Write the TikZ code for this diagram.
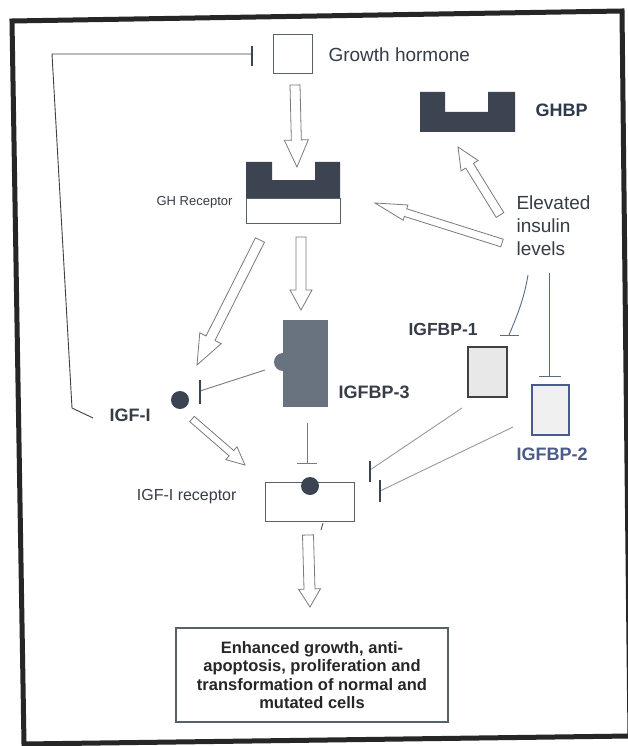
\documentclass[tikz,border=0pt]{standalone}
\usepackage{fontspec}
\setmainfont{Liberation Sans}
\usetikzlibrary{calc,arrows.meta}
\definecolor{dk}{HTML}{3B4450}
\definecolor{bp3}{HTML}{68737F}
\definecolor{txt}{HTML}{363D47}
\definecolor{ghbp}{HTML}{2D3A4C}
\definecolor{bp2}{HTML}{4A5A8A}
\definecolor{ln}{HTML}{7A7A7A}
\definecolor{bl}{HTML}{5A6A85}
\newcommand{\fsz}[2]{\fontsize{#1}{#2}\selectfont}
\newcommand{\hollowarrow}[5]{%
  \coordinate (hab) at ($(#2)!#5!(#1)$);
  \draw[blockarr] ($(#1)!#3!90:(#2)$) -- ($(hab)!#3!90:(#2)$) -- ($(hab)!#4!90:(#2)$) -- (#2) -- ($(hab)!#4!-90:(#2)$) -- ($(hab)!#3!-90:(#2)$) -- ($(#1)!#3!-90:(#2)$) -- cycle;}
\tikzset{
  blockarr/.style={draw=ln, fill=white, line width=0.8pt, line join=miter},
  inh/.style={draw=ln, line width=0.9pt},
  barline/.style={draw=dk, line width=1.4pt},
  frame/.style={draw=black!85, line width=5pt, line join=miter},
  boxline/.style={draw=dk!85, line width=0.9pt, inner sep=0pt},
  dot/.style={circle, fill=dk, inner sep=0pt, minimum size=18pt},
}
\begin{document}
\begin{tikzpicture}[x=1pt,y=-1pt]
\useasboundingbox (0,0) rectangle (627,746);
\fill[white] (0,0) rectangle (627,746);
\draw[frame] (12,21) -- (622,11) -- (630,736) -- (24,744) -- cycle;

% Growth hormone
\node[boxline, minimum width=39pt, minimum height=39pt] (gh) at (292.5,53.5) {};
\node[anchor=west, font=\fsz{19}{22}, text=txt] (ghl) at (325,55) {Growth hormone};

% GH receptor
\fill[dk] (246,162) -- (272,162) -- (272,180) -- (315,180) -- (315,162) -- (340,162) -- (340,198) -- (246,198) -- cycle;
\node[boxline, minimum width=94pt, minimum height=25pt] (ghr) at (293,210.5) {};
\node[anchor=east, font=\fsz{13}{15}, text=txt] (ghrl) at (236,202) {GH Receptor};

% GHBP
\fill[dk] (420,92) -- (445,92) -- (445,112) -- (488,112) -- (488,92) -- (515,92) -- (515,132) -- (420,132) -- cycle;
\node[anchor=west, font=\bfseries\fsz{18}{21}, text=ghbp] (ghbpl) at (532,110) {GHBP};

% Elevated insulin levels
\node[anchor=west, align=left, font=\fsz{19}{23}, text=txt] (ins) at (513,226) {Elevated\\insulin\\levels};

% IGFBP-3
\fill[bp3] (283,320) rectangle (328,407);
\fill[bp3] (283,362) circle (9);
\node[anchor=west, font=\bfseries\fsz{18}{21}, text=txt] (bp3l) at (335,392) {IGFBP-3};

% IGF-I
\node[dot] (igf) at (180,400) {};
\node[anchor=west, font=\bfseries\fsz{18}{21}, text=txt] (igfl) at (106,415) {IGF-I};

% IGF-I receptor
\node[boxline, minimum width=89pt, minimum height=39pt] (rec) at (309.5,501.5) {};
\node[dot] (recdot) at (310,486) {};
\node[anchor=east, font=\fsz{16}{19}, text=txt] (recl) at (240,497) {IGF-I receptor};
\draw[dk, line width=0.8pt] (323,523) -- (321,530);

% IGFBP-1
\node[draw=black!75, fill=black!9, line width=1.2pt, minimum width=39pt, minimum height=50pt, inner sep=0pt] (bp1) at (487.5,372) {};
\node[anchor=west, font=\bfseries\fsz{17.5}{21}, text=txt] (bp1l) at (405,329) {IGFBP-1};

% IGFBP-2
\node[draw=bp2, fill=black!6, line width=1.2pt, minimum width=37pt, minimum height=50pt, inner sep=0pt] (bp2) at (550.5,410) {};
\node[anchor=west, font=\bfseries\fsz{18}{21}, text=bp2] (bp2l) at (513,454) {IGFBP-2};

% Result box
\node[boxline, line width=1.1pt, minimum width=272pt, minimum height=94pt, align=center, font=\bfseries\fsz{16.5}{18.5}, text=black!85] (res) at (312,675) {Enhanced growth, anti-\\apoptosis, proliferation and\\transformation of normal and\\mutated cells};

% hollow arrows
\coordinate (a1t) at (295,85);  \coordinate (a1h) at (297,167);
\coordinate (a2t) at (260,240); \coordinate (a2h) at (197,365);
\coordinate (a3t) at (301,237); \coordinate (a3h) at (301,310);
\coordinate (a4t) at (192,419); \coordinate (a4h) at (245,465);
\coordinate (a5t) at (308,535); \coordinate (a5h) at (310,607);
\coordinate (a6t) at (500,215); \coordinate (a6h) at (458,147);
\coordinate (a7t) at (502,243); \coordinate (a7h) at (375,203);
\hollowarrow{a1t}{a1h}{5pt}{12pt}{27pt}
\hollowarrow{a2t}{a2h}{5pt}{12pt}{30pt}
\hollowarrow{a3t}{a3h}{5pt}{11pt}{20pt}
\hollowarrow{a4t}{a4h}{3.5pt}{8.5pt}{18pt}
\hollowarrow{a5t}{a5h}{5.5pt}{11pt}{18pt}
\hollowarrow{a6t}{a6h}{4.5pt}{10pt}{22pt}
\hollowarrow{a7t}{a7h}{4pt}{8pt}{32pt}

% inhibition lines
\coordinate (f1) at (93,418); \coordinate (f2) at (72,408); \coordinate (f3) at (52,54); \coordinate (f4) at (252,54);
\draw[inh, draw=black!75] (f1) -- (f2) -- (f3) -- (f4);
\draw[barline] (252,46) -- (252,66);

\coordinate (i3a) at (265,370); \coordinate (i3b) at (200,391);
\draw[inh] (i3a) -- (i3b);
\draw[barline] (200,380) -- (200,404);

\coordinate (i4a) at (307,423); \coordinate (i4b) at (307,463);
\draw[inh] (i4a) -- (i4b);
\draw[barline, draw=ln, line width=1pt] (297,463) -- (317,463);

\coordinate (i5a) at (462,408); \coordinate (i5b) at (370,470);
\draw[inh, draw=black!40] (i5a) -- (i5b);
\draw[barline] (370,461) -- (370,482);

\coordinate (i6a) at (513,427); \coordinate (i6b) at (380,491);
\draw[inh, draw=black!40] (i6a) -- (i6b);
\draw[barline] (380,480) -- (380,502);

\coordinate (i7a) at (528,275); \coordinate (i7b) at (509,335);
\draw[inh, draw=bl] (i7a) .. controls (524,300) and (516,318) .. (i7b);
\draw[barline, draw=bl, line width=1pt] (500,335) -- (519,335);

\coordinate (i8a) at (549,273); \coordinate (i8b) at (549,376);
\draw[inh, draw=bl] (i8a) -- (i8b);
\draw[barline, draw=bl, line width=1pt] (539,376) -- (561,376);
\end{tikzpicture}
\end{document}
